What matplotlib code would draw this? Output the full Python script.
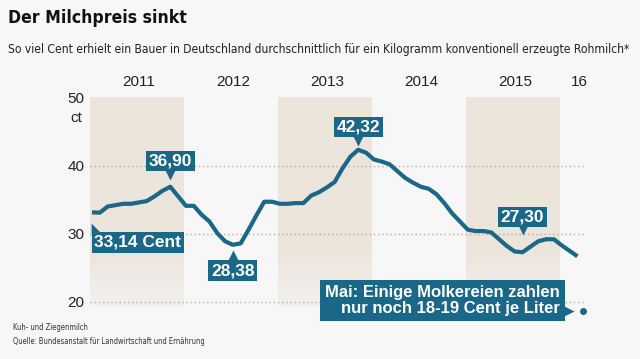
import matplotlib
matplotlib.use("Agg")
import matplotlib.pyplot as plt
import numpy as np
from matplotlib import font_manager as fm
from matplotlib.transforms import offset_copy

# Erzeugerpreis konventionelle Rohmilch, Jan 2011 bis Mar 2016 (ct/kg)
price = [33.14, 33.1, 34.0, 34.2, 34.4, 34.4, 34.6, 34.8, 35.5, 36.3, 36.9, 35.5,
         34.1, 34.1, 32.8, 31.8, 30.1, 28.9, 28.38, 28.6, 30.6, 32.7, 34.7, 34.7,
         34.4, 34.4, 34.5, 34.5, 35.6, 36.1, 36.8, 37.6, 39.6, 41.3, 42.32, 41.9,
         40.9, 40.6, 40.2, 39.2, 38.2, 37.5, 36.9, 36.6, 35.8, 34.5, 33.0, 31.8,
         30.6, 30.4, 30.4, 30.2, 29.2, 28.2, 27.4, 27.3, 28.1, 28.9, 29.2, 29.2,
         28.3, 27.5, 26.7]
months = np.arange(len(price))

year_labels = ["2011", "2012", "2013", "2014", "2015", "16"]
year_pos = [6, 18, 30, 42, 54, 62.3]
shaded_starts = [0, 24, 48]  # 2011, 2013, 2015

# callouts: month index, label
callouts = [(0, "33,14 Cent"), (10, "36,90"), (18, "28,38"), (34, "42,32"), (55, "27,30")]
may_x, may_val = 62.7, 18.7
may_text = "Mai: Einige Molkereien zahlen\nnur noch 18-19 Cent je Liter"

title = "Der Milchpreis sinkt"
subtitle = ("So viel Cent erhielt ein Bauer in Deutschland durchschnittlich "
            "für ein Kilogramm konventionell erzeugte Rohmilch*")
notes = ["Kuh- und Ziegenmilch", "Quelle: Bundesanstalt für Landwirtschaft und Ernährung"]

BLUE = "#1a6787"
BAND = "#ece5dc"
BG = "#f7f7f7"
sans = ["Liberation Sans", "DejaVu Sans"]


# look for a condensed face for the header/footer, otherwise Liberation Sans
def weight_num(w):
    if isinstance(w, (int, float)):
        return w
    return fm.weight_dict.get(str(w).lower(), 400)


cond = [f for f in fm.fontManager.ttflist
        if "condensed" in str(f.stretch).lower() or "Narrow" in f.name or "Condensed" in f.name]


def head_font(bold):
    for f in cond:
        if (weight_num(f.weight) >= 600) == bold and f.style == "normal":
            return fm.FontProperties(fname=f.fname)
    return fm.FontProperties(family="Liberation Sans", weight="bold" if bold else "normal")


fig = plt.figure(figsize=(6.4, 3.59), dpi=100, facecolor=BG)
ax = fig.add_axes([0.1364, 0.1209, 0.789, 0.6267])
ax.set_facecolor(BG)
ax.set_xlim(-0.6, 63.9)
ax.set_ylim(18, 51)
for s in ax.spines.values():
    s.set_visible(False)

# year bands, lighter towards the bottom
grad = np.ones((100, 1, 4))
grad[:, 0, :3] = matplotlib.colors.to_rgb(BAND)
yy = np.linspace(50, 19.2, 100)
grad[:, 0, 3] = np.clip(0.35 + 0.65 * (yy - 19.2) / 8.0, 0, 1)
for s in shaded_starts:
    ax.imshow(grad, extent=[s - 0.25, s + 11.7, 19.2, 50], aspect="auto",
              interpolation="bilinear", zorder=0)

for g in [20, 30, 40]:
    ax.plot([-0.25, 63.0], [g, g], color="#b9ab9c", lw=1, ls=(0, (1, 2)), zorder=1)

ax.plot(months, price, color=BLUE, lw=3, solid_capstyle="butt", solid_joinstyle="round", zorder=3)

ax.set_xticks([])
ax.set_yticks([20, 30, 40, 50])
ax.set_yticklabels(["20", "30", "40", "50"], fontsize=11, family=sans, color="#222222")
ax.tick_params(axis="y", length=0, pad=2)
ax.text(-0.0222, 47.0, "ct", transform=ax.get_yaxis_transform(), ha="center", va="center",
        fontsize=11, family=sans, color="#222222")

for lab, xp in zip(year_labels, year_pos):
    ax.text(xp, 52.25, lab, ha="center", va="center", fontsize=11, family=sans,
            color="#222222", clip_on=False)


def off(dx, dy):
    return offset_copy(ax.transData, fig=fig, x=dx, y=dy, units="dots")


box = dict(boxstyle="square,pad=0.16", fc=BLUE, ec="none")
# (dx, dy) of box and of pointer in pixels, pointer marker
layout = {
    0: ((46, -30), (4, -15.7), [(-1, -1), (-1, 1), (1, -1)]),
    10: ((0, 25.6), (0, 11.7), "v"),
    18: ((0, -25.7), (0, -10.2), "^"),
    34: ((0, 22.8), (0, 8.3), "v"),
    55: ((0, 35), (0, 21.7), "v"),
}
for i, lab in callouts:
    (bx, by), (tx, ty), mk = layout[i]
    ax.text(i, price[i], lab, transform=off(bx, by), ha="center", va="center",
            fontsize=12.5, weight="bold", family=sans, color="white", bbox=box, zorder=5)
    ax.plot([i], [price[i]], marker=mk, ms=7, color=BLUE, mec="none",
            transform=off(tx, ty), zorder=5, clip_on=False)

ax.plot([may_x], [may_val], "o", ms=5, color=BLUE, mec="none", zorder=5, clip_on=False)
ax.text(may_x, may_val, may_text, transform=off(-23, 10), ha="right", va="center",
        multialignment="right", fontsize=12, weight="bold", family=sans, color="white",
        linespacing=1.1, bbox=dict(boxstyle="square,pad=0.3", fc=BLUE, ec="none"), zorder=5,
        clip_on=False)
ax.plot([may_x], [may_val], marker=">", ms=7, color=BLUE, mec="none",
        transform=off(-13.5, 0), zorder=5, clip_on=False)

# header and footer; sizes fitted to the widths in the original
heads = [
    (title, 8, 18, 16.5, True, "#111111", 178),
    (subtitle, 8, 50, 10.5, False, "#222222", 624),
    (notes[0], 13, 328, 6.5, False, "#333333", 76),
    (notes[1], 13, 342, 6.5, False, "#333333", 192),
]
texts = []
for txt, xp, yp, size, bold, col, target in heads:
    t = fig.text(xp / 640, 1 - yp / 359, txt, fontproperties=head_font(bold), color=col,
                 va="center", ha="left")
    t.set_fontsize(size)
    texts.append((t, target))

fig.canvas.draw()
r = fig.canvas.get_renderer()
for t, target in texts:
    w = t.get_window_extent(r).width
    t.set_fontsize(t.get_fontsize() * target / w)

fig.savefig("out.png", dpi=100, facecolor=BG)
